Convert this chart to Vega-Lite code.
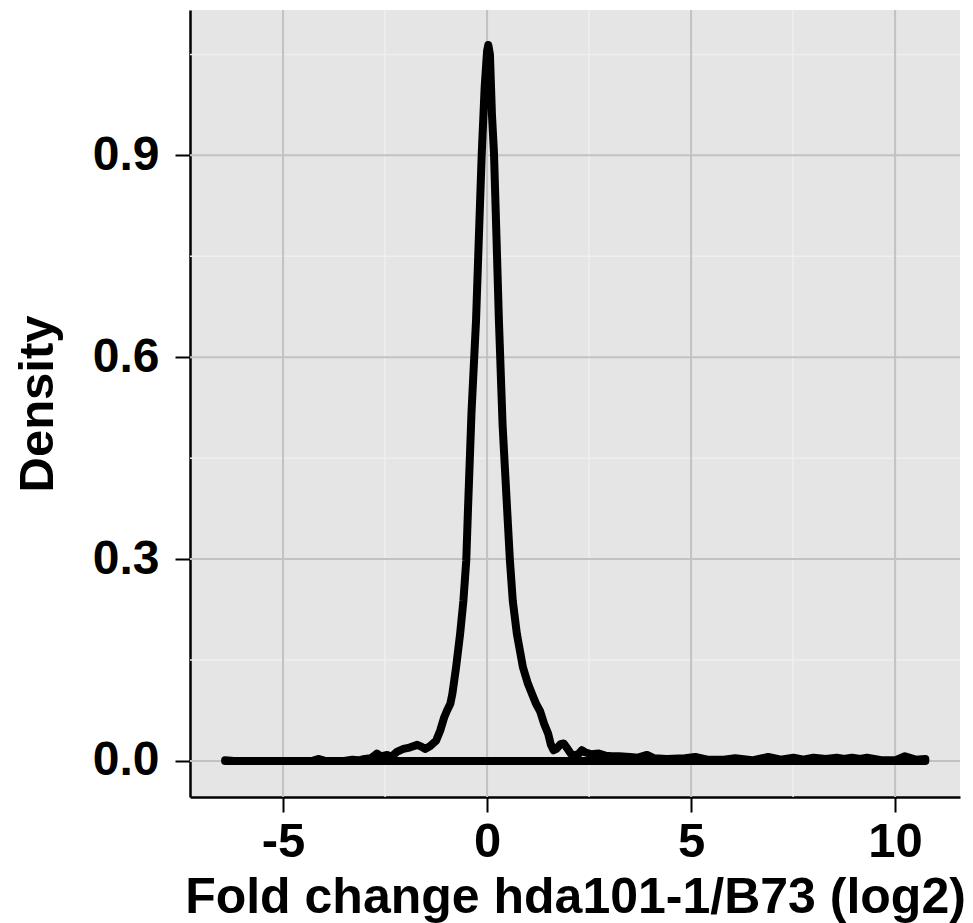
{
  "$schema": "https://vega.github.io/schema/vega-lite/v6.json",
  "width": 770,
  "height": 787,
  "autosize": {"type": "none"},
  "padding": {"left": 190, "top": 10, "right": 13, "bottom": 126},
  "background": "white",
  "config": {
    "view": {"fill": "#e5e5e5", "stroke": null},
    "font": "Liberation Sans",
    "axisX": {
      "grid": false,
      "titleFont": "Liberation Sans", "titleFontSize": 50, "titleFontWeight": "bold", "titleColor": "black", "titlePadding": 6,
      "labelFont": "Liberation Sans", "labelFontSize": 49, "labelFontWeight": "bold", "labelColor": "black", "labelPadding": 5,
      "domainColor": "black", "domainWidth": 2.5,
      "tickColor": "black", "tickWidth": 2, "tickSize": 15
    },
    "axisY": {
      "grid": false,
      "titleFont": "Liberation Sans", "titleFontSize": 49, "titleFontWeight": "bold", "titleColor": "black", "titlePadding": 30,
      "labelFont": "Liberation Sans", "labelFontSize": 48, "labelFontWeight": "bold", "labelColor": "black", "labelPadding": 16,
      "domainColor": "black", "domainWidth": 2.5,
      "tickColor": "black", "tickWidth": 2, "tickSize": 15
    }
  },
  "layer": [
    {
      "data": {"values": [{"x": -2.5}, {"x": 2.5}, {"x": 7.5}]},
      "mark": {"type": "rule", "color": "#efefef", "strokeWidth": 1.5},
      "encoding": {
        "x": {"field": "x", "type": "quantitative", "scale": {"domain": [-7.28, 11.59], "nice": false, "zero": false},
              "axis": {"values": [-5, 0, 5, 10], "labelExpr": "datum.value < 0 ? '-' + abs(datum.value) : '' + datum.value", "title": "Fold change hda101-1/B73 (log2)"}}
      }
    },
    {
      "data": {"values": [{"y": 0.15}, {"y": 0.45}, {"y": 0.75}, {"y": 1.05}]},
      "mark": {"type": "rule", "color": "#efefef", "strokeWidth": 1.5},
      "encoding": {
        "y": {"field": "y", "type": "quantitative", "scale": {"domain": [-0.0535, 1.116], "nice": false, "zero": false},
              "axis": {"values": [0, 0.3, 0.6, 0.9], "format": ".1f", "title": "Density"}}
      }
    },
    {
      "data": {"values": [{"x": -5}, {"x": 0}, {"x": 5}, {"x": 10}]},
      "mark": {"type": "rule", "color": "#c2c2c2", "strokeWidth": 2},
      "encoding": {
        "x": {"field": "x", "type": "quantitative", "scale": {"domain": [-7.28, 11.59], "nice": false, "zero": false},
              "axis": {"values": [-5, 0, 5, 10], "labelExpr": "datum.value < 0 ? '-' + abs(datum.value) : '' + datum.value", "title": "Fold change hda101-1/B73 (log2)"}}
      }
    },
    {
      "data": {"values": [{"y": 0}, {"y": 0.3}, {"y": 0.6}, {"y": 0.9}]},
      "mark": {"type": "rule", "color": "#c2c2c2", "strokeWidth": 2},
      "encoding": {
        "y": {"field": "y", "type": "quantitative", "scale": {"domain": [-0.0535, 1.116], "nice": false, "zero": false},
              "axis": {"values": [0, 0.3, 0.6, 0.9], "format": ".1f", "title": "Density"}}
      }
    },
    {
      "data": {"values": [
        {"o": 1, "x": -6.42, "y": 0.001},
        {"o": 2, "x": -6.2, "y": 0.0},
        {"o": 3, "x": -5.0, "y": 0.0},
        {"o": 4, "x": -4.3, "y": 0.0},
        {"o": 5, "x": -4.12, "y": 0.003},
        {"o": 6, "x": -3.95, "y": 0.0},
        {"o": 7, "x": -3.5, "y": 0.0},
        {"o": 8, "x": -3.3, "y": 0.002},
        {"o": 9, "x": -3.15, "y": 0.001},
        {"o": 10, "x": -3.0, "y": 0.003},
        {"o": 11, "x": -2.85, "y": 0.004},
        {"o": 12, "x": -2.7, "y": 0.011},
        {"o": 13, "x": -2.6, "y": 0.007},
        {"o": 14, "x": -2.45, "y": 0.009},
        {"o": 15, "x": -2.35, "y": 0.006},
        {"o": 16, "x": -2.2, "y": 0.014},
        {"o": 17, "x": -2.05, "y": 0.018},
        {"o": 18, "x": -1.9, "y": 0.02},
        {"o": 19, "x": -1.71, "y": 0.024},
        {"o": 20, "x": -1.6, "y": 0.021},
        {"o": 21, "x": -1.52, "y": 0.018},
        {"o": 22, "x": -1.4, "y": 0.022},
        {"o": 23, "x": -1.25, "y": 0.03},
        {"o": 24, "x": -1.15, "y": 0.045},
        {"o": 25, "x": -1.05, "y": 0.065},
        {"o": 26, "x": -0.98, "y": 0.075},
        {"o": 27, "x": -0.9, "y": 0.085},
        {"o": 28, "x": -0.85, "y": 0.1},
        {"o": 29, "x": -0.76, "y": 0.139},
        {"o": 30, "x": -0.66, "y": 0.189},
        {"o": 31, "x": -0.58, "y": 0.238},
        {"o": 32, "x": -0.51, "y": 0.298},
        {"o": 33, "x": -0.46, "y": 0.387},
        {"o": 34, "x": -0.38, "y": 0.52},
        {"o": 35, "x": -0.27, "y": 0.655},
        {"o": 36, "x": -0.2, "y": 0.78},
        {"o": 37, "x": -0.13, "y": 0.903},
        {"o": 38, "x": -0.06, "y": 1.0},
        {"o": 39, "x": 0.0, "y": 1.055},
        {"o": 40, "x": 0.03, "y": 1.064},
        {"o": 41, "x": 0.07, "y": 1.05},
        {"o": 42, "x": 0.12, "y": 0.96},
        {"o": 43, "x": 0.17, "y": 0.903},
        {"o": 44, "x": 0.23, "y": 0.78},
        {"o": 45, "x": 0.29, "y": 0.655},
        {"o": 46, "x": 0.38, "y": 0.5},
        {"o": 47, "x": 0.48, "y": 0.387},
        {"o": 48, "x": 0.56, "y": 0.298},
        {"o": 49, "x": 0.63, "y": 0.238},
        {"o": 50, "x": 0.73, "y": 0.189},
        {"o": 51, "x": 0.88, "y": 0.139},
        {"o": 52, "x": 1.0, "y": 0.115},
        {"o": 53, "x": 1.1, "y": 0.1},
        {"o": 54, "x": 1.2, "y": 0.085},
        {"o": 55, "x": 1.3, "y": 0.074},
        {"o": 56, "x": 1.4, "y": 0.055},
        {"o": 57, "x": 1.5, "y": 0.04},
        {"o": 58, "x": 1.56, "y": 0.025},
        {"o": 59, "x": 1.63, "y": 0.016},
        {"o": 60, "x": 1.7, "y": 0.018},
        {"o": 61, "x": 1.8, "y": 0.025},
        {"o": 62, "x": 1.88, "y": 0.026},
        {"o": 63, "x": 1.95, "y": 0.02},
        {"o": 64, "x": 2.05, "y": 0.011},
        {"o": 65, "x": 2.15, "y": 0.008},
        {"o": 66, "x": 2.25, "y": 0.011},
        {"o": 67, "x": 2.32, "y": 0.016},
        {"o": 68, "x": 2.4, "y": 0.013},
        {"o": 69, "x": 2.55, "y": 0.01},
        {"o": 70, "x": 2.74, "y": 0.011},
        {"o": 71, "x": 2.9, "y": 0.008},
        {"o": 72, "x": 3.05, "y": 0.007},
        {"o": 73, "x": 3.24, "y": 0.007},
        {"o": 74, "x": 3.5, "y": 0.006},
        {"o": 75, "x": 3.7, "y": 0.005},
        {"o": 76, "x": 3.92, "y": 0.009},
        {"o": 77, "x": 4.1, "y": 0.004},
        {"o": 78, "x": 4.4, "y": 0.003},
        {"o": 79, "x": 4.85, "y": 0.004},
        {"o": 80, "x": 5.1, "y": 0.006},
        {"o": 81, "x": 5.4, "y": 0.002},
        {"o": 82, "x": 5.8, "y": 0.002},
        {"o": 83, "x": 6.08, "y": 0.004},
        {"o": 84, "x": 6.5, "y": 0.001},
        {"o": 85, "x": 6.89, "y": 0.006},
        {"o": 86, "x": 7.2, "y": 0.002},
        {"o": 87, "x": 7.51, "y": 0.005},
        {"o": 88, "x": 7.75, "y": 0.002},
        {"o": 89, "x": 8.0, "y": 0.005},
        {"o": 90, "x": 8.3, "y": 0.003},
        {"o": 91, "x": 8.57, "y": 0.005},
        {"o": 92, "x": 8.75, "y": 0.003},
        {"o": 93, "x": 8.94, "y": 0.005},
        {"o": 94, "x": 9.15, "y": 0.003},
        {"o": 95, "x": 9.31, "y": 0.005},
        {"o": 96, "x": 9.7, "y": 0.001},
        {"o": 97, "x": 10.0, "y": 0.001},
        {"o": 98, "x": 10.24, "y": 0.007},
        {"o": 99, "x": 10.5, "y": 0.002},
        {"o": 100, "x": 10.74, "y": 0.003},
        {"o": 101, "x": 10.74, "y": 0.0},
        {"o": 102, "x": -6.42, "y": 0.0}
      ]},
      "mark": {"type": "line", "color": "black", "strokeWidth": 8, "strokeCap": "round", "strokeJoin": "round"},
      "encoding": {
        "x": {
          "field": "x", "type": "quantitative",
          "scale": {"domain": [-7.28, 11.59], "nice": false, "zero": false},
          "axis": {"values": [-5, 0, 5, 10], "labelExpr": "datum.value < 0 ? '-' + abs(datum.value) : '' + datum.value", "title": "Fold change hda101-1/B73 (log2)"}
        },
        "y": {
          "field": "y", "type": "quantitative",
          "scale": {"domain": [-0.0535, 1.116], "nice": false, "zero": false},
          "axis": {"values": [0, 0.3, 0.6, 0.9], "format": ".1f", "title": "Density"}
        },
        "order": {"field": "o", "type": "quantitative"}
      }
    }
  ]
}
